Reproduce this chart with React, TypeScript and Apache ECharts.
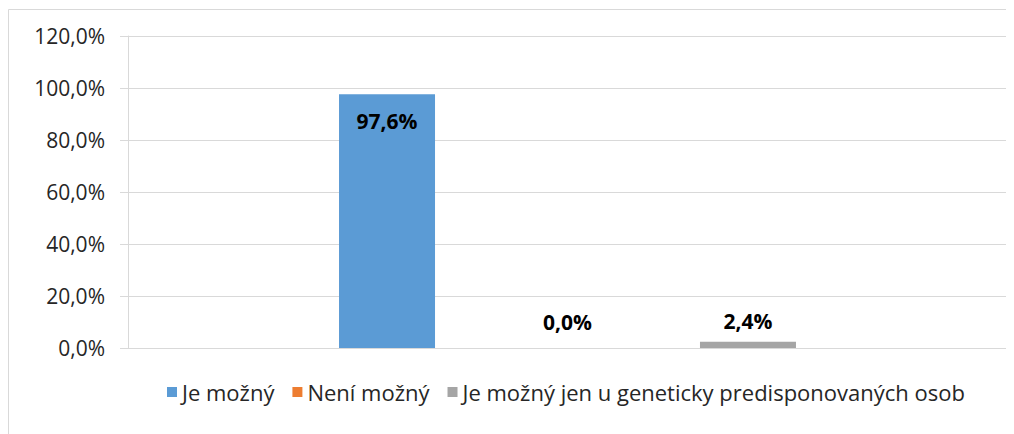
import React, { useEffect, useRef } from "react";
import * as echarts from "echarts";

const categories = [""];
const seriesNames = [
  "Je možný",
  "Není možný",
  "Je možný jen u geneticky predisponovaných osob",
];
const seriesValues = [97.6, 0.0, 2.4];
const seriesColors = ["#5B9BD5", "#ED7D31", "#A5A5A5"];
const yTicks = [0, 20, 40, 60, 80, 100, 120];

const FONT = "'Open Sans', 'Noto Sans', sans-serif";
const fmt = (v: number) => v.toFixed(1).replace(".", ",") + "%";

export default function App() {
  const ref = useRef<HTMLDivElement>(null);
  useEffect(() => {
    if (!ref.current) return;
    const chart = echarts.init(ref.current, undefined, { renderer: "svg" });
    const labelPos = ["insideTop", "top", "top"];
    const labelDist = [16, 16, 10];
    chart.setOption({
      animation: false,
      textStyle: { fontFamily: FONT },
      graphic: [
        { type: "line", shape: { x1: 0.5, y1: 1.5, x2: 1006, y2: 1.5 }, style: { stroke: "#d9d9d9", lineWidth: 1 } },
        { type: "line", shape: { x1: 0.5, y1: 1.5, x2: 0.5, y2: 426 }, style: { stroke: "#d9d9d9", lineWidth: 1 } },
      ],
      grid: { left: 120, right: 7, top: 28, height: 312, containLabel: false },
      legend: {
        left: 159,
        top: 373,
        padding: 0,
        icon: "rect",
        itemWidth: 10,
        itemHeight: 10,
        itemGap: 18,
        textStyle: { fontSize: 22, color: "#262626", fontFamily: FONT },
        data: seriesNames,
      },
      xAxis: {
        type: "category",
        data: categories,
        axisLine: { show: true, lineStyle: { color: "#d9d9d9" } },
        axisTick: { show: false },
        axisLabel: { show: false },
      },
      yAxis: {
        type: "value",
        min: yTicks[0],
        max: yTicks[yTicks.length - 1],
        interval: 20,
        axisLine: { show: true, lineStyle: { color: "#d9d9d9" } },
        axisTick: { show: true, length: 8, lineStyle: { color: "#d9d9d9" } },
        splitLine: { show: true, lineStyle: { color: "#d9d9d9" } },
        axisLabel: {
          margin: 23,
          fontSize: 21,
          color: "#262626",
          fontFamily: FONT,
          formatter: (v: number) => fmt(v),
        },
      },
      series: seriesNames.map((name, i) => ({
        name,
        type: "bar",
        data: [seriesValues[i]],
        barWidth: 96,
        barGap: "88%",
        itemStyle: { color: seriesColors[i] },
        label: {
          show: true,
          position: labelPos[i],
          distance: labelDist[i],
          fontSize: 21,
          fontWeight: "bold",
          color: "#000",
          fontFamily: FONT,
          formatter: (p: any) => fmt(p.value),
        },
      })),
    });
    return () => chart.dispose();
  }, []);
  return <div ref={ref} style={{ width: 1006, height: 426 }} />;
}
